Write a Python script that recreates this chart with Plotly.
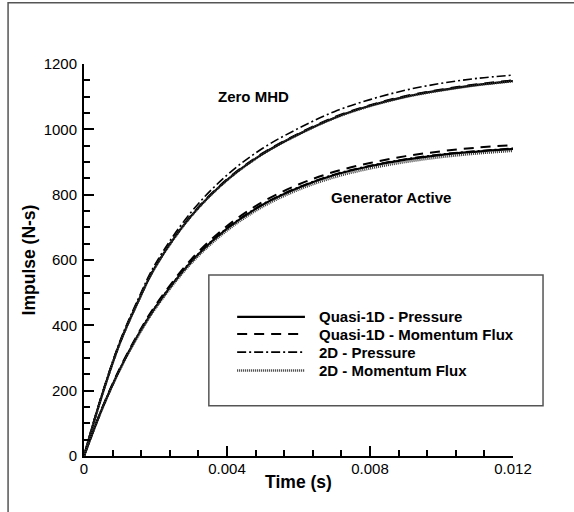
import plotly.graph_objects as go

# time samples (s)
time_s = [0, 0.0005, 0.001, 0.0015, 0.002, 0.003, 0.004, 0.005, 0.006,
          0.007, 0.008, 0.009, 0.010, 0.011, 0.012]

# Zero MHD case, impulse (N-s)
zero_q1d_pressure = [0, 185, 345, 470, 580, 735, 845, 925, 985, 1035, 1072, 1100, 1120, 1136, 1148]
zero_q1d_momentum = [0, 186, 346, 472, 582, 737, 847, 927, 987, 1037, 1074, 1102, 1122, 1138, 1150]
zero_2d_pressure = [0, 188, 350, 477, 589, 747, 860, 942, 1003, 1054, 1091, 1120, 1141, 1156, 1166]
zero_2d_momentum = [0, 184, 344, 469, 579, 734, 844, 924, 984, 1034, 1071, 1099, 1119, 1135, 1147]

# Generator active case, impulse (N-s)
gen_q1d_pressure = [0, 143, 265, 368, 456, 595, 696, 769, 821, 860, 887, 907, 922, 932, 940]
gen_q1d_momentum = [0, 145, 268, 372, 461, 602, 704, 778, 831, 870, 897, 918, 933, 944, 952]
gen_2d_pressure = [0, 144, 266, 369, 458, 597, 698, 771, 823, 862, 889, 909, 924, 934, 942]
gen_2d_momentum = [0, 142, 263, 365, 452, 590, 690, 763, 815, 853, 880, 900, 915, 926, 934]

names = ["Quasi-1D - Pressure", "Quasi-1D - Momentum Flux", "2D - Pressure", "2D - Momentum Flux"]
dashes = ["solid", "10px,7px", "9px,3px,2px,3px", "1px,1px"]
widths = [2.2, 2, 1.6, 2.4]
colors = ["black", "black", "black", "#333333"]

zero = [zero_q1d_pressure, zero_q1d_momentum, zero_2d_pressure, zero_2d_momentum]
gen = [gen_q1d_pressure, gen_q1d_momentum, gen_2d_pressure, gen_2d_momentum]

FONT = "Liberation Sans, Arial, sans-serif"

fig = go.Figure()
for i in range(4):
    for series in (zero[i], gen[i]):
        fig.add_trace(go.Scatter(x=time_s, y=series, mode="lines", name=names[i], showlegend=False,
                                 line=dict(color=colors[i], width=widths[i], dash=dashes[i], shape="spline")))

axis_common = dict(
    showline=True, linecolor="black", linewidth=2, showgrid=False, zeroline=False,
    ticks="inside", ticklen=10, tickwidth=2, tickcolor="black",
    tickfont=dict(family=FONT, size=15, color="black"),
    automargin=False,
)

fig.update_xaxes(range=[0, 0.012], tickvals=[0, 0.004, 0.008, 0.012],
                 ticktext=["0", "0.004", "0.008", "0.012"], ticklabelstandoff=-2,
                 minor=dict(ticks="inside", ticklen=6, tickwidth=1.5, tickcolor="black", dtick=0.0008, tick0=0),
                 title=dict(text="Time (s)", font=dict(family=FONT, size=17.5, color="black", weight="bold"), standoff=0),
                 **axis_common)
fig.update_yaxes(range=[0, 1200], dtick=200, ticklabelstandoff=2,
                 minor=dict(ticks="inside", ticklen=6, tickwidth=1.5, tickcolor="black", dtick=50, tick0=0),
                 title=dict(text="Impulse (N-s)", font=dict(family=FONT, size=17.5, color="black", weight="bold"), standoff=4),
                 **axis_common)

fig.add_annotation(x=0.00473, y=1099, text="<b>Zero MHD</b>", showarrow=False,
                   font=dict(family=FONT, size=15, color="black"))
fig.add_annotation(x=0.00859, y=790, text="<b>Generator Active</b>", showarrow=False,
                   font=dict(family=FONT, size=15, color="black"))

# legend: frame, line samples and labels (paper coordinates)
fig.add_shape(type="rect", xref="paper", yref="paper", x0=0.291, x1=1.070, y0=0.128, y1=0.462,
              line=dict(color="#555555", width=1.5), fillcolor="rgba(0,0,0,0)")
legend_rows = [0.355, 0.311, 0.265, 0.218]
for i in range(4):
    fig.add_shape(type="line", xref="paper", yref="paper", x0=0.357, x1=0.515,
                  y0=legend_rows[i], y1=legend_rows[i],
                  line=dict(color=colors[i], width=widths[i], dash=dashes[i]))
    fig.add_annotation(xref="paper", yref="paper", x=0.543, y=legend_rows[i],
                       xanchor="left", yanchor="middle",
                       text="<b>" + names[i] + "</b>", showarrow=False,
                       font=dict(family=FONT, size=15, color="black"))

# outer frame
fig.add_shape(type="rect", xref="paper", yref="paper", x0=-0.177, x1=3, y0=-3, y1=1.156,
              line=dict(color="#555555", width=1.5), fillcolor="rgba(0,0,0,0)")

fig.update_layout(
    width=574, height=512,
    margin=dict(l=84, r=61, t=64, b=56),
    paper_bgcolor="white", plot_bgcolor="white",
    font=dict(family=FONT, color="black"),
    showlegend=False,
)

# page has no body margin so the figure sits at the window corner
fig.write_html("out.html", config={"displayModeBar": False},
               post_script="document.body.style.margin='0';")
